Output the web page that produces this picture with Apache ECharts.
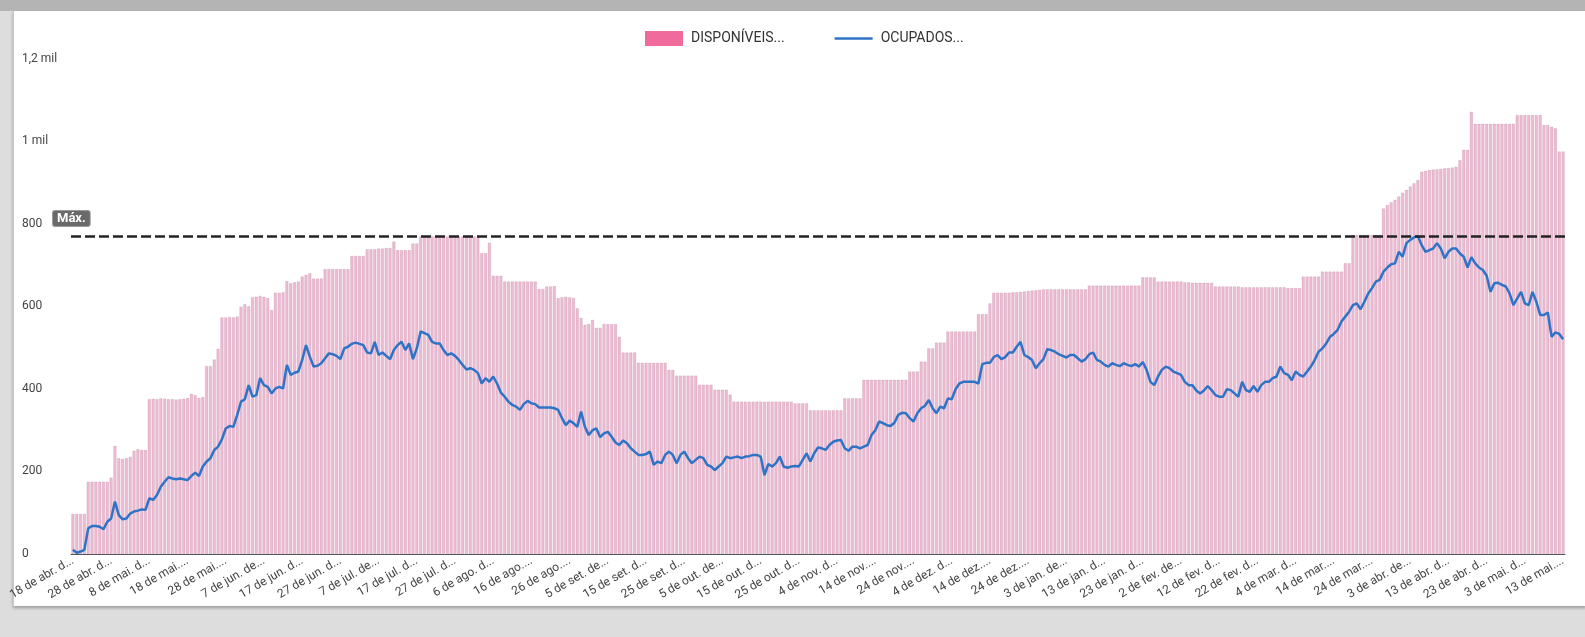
<!DOCTYPE html>
<html>
<head>
<meta charset="utf-8">
<script src="https://cdn.jsdelivr.net/npm/echarts@6/dist/echarts.min.js"></script>
<style>
  html, body { margin: 0; padding: 0; width: 1585px; height: 637px; overflow: hidden; background: #dddddd; }
  #topbar { position: absolute; left: 0; top: 0; width: 1585px; height: 11px; background: #b4b4b4; }
  #panel { position: absolute; left: 13px; top: 11px; width: 1572px; height: 595px; background: #ffffff;
           border-left: 1px solid #c9c9c9; box-shadow: 0 2px 3px rgba(0,0,0,0.30); }
  #chart { position: absolute; left: 0; top: 0; width: 1585px; height: 637px; }
</style>
</head>
<body>
<div id="topbar"></div>
<div id="panel"></div>
<div id="chart"></div>
<script>
// Daily ICU beds: available (bars) and occupied (line), from 18 abr. 2020
const disponiveis = [
  97, 97, 97, 97, 175, 175, 175, 175, 175, 175,
  185, 262, 232, 230, 232, 235, 250, 254, 252, 252,
  375, 376, 375, 377, 376, 375, 375, 374, 375, 376,
  378, 388, 385, 378, 380, 455, 455, 471, 497, 573,
  573, 574, 573, 575, 599, 605, 600, 622, 623, 625,
  623, 620, 591, 633, 633, 634, 661, 656, 658, 660,
  672, 676, 680, 667, 667, 667, 690, 690, 690, 690,
  690, 690, 690, 722, 722, 722, 722, 738, 738, 738,
  740, 740, 741, 741, 757, 736, 736, 736, 736, 752,
  752, 769, 769, 769, 769, 769, 769, 769, 769, 769,
  769, 769, 769, 769, 769, 769, 769, 729, 729, 754,
  674, 674, 674, 660, 660, 660, 660, 660, 660, 660,
  660, 660, 642, 642, 648, 648, 649, 620, 622, 623,
  622, 620, 595, 572, 555, 557, 567, 548, 548, 557,
  557, 557, 557, 526, 488, 488, 488, 488, 463, 463,
  463, 463, 463, 463, 463, 463, 446, 446, 432, 432,
  432, 432, 432, 432, 410, 410, 410, 410, 398, 398,
  398, 398, 386, 369, 369, 369, 369, 369, 369, 369,
  369, 369, 369, 369, 369, 369, 369, 369, 369, 365,
  365, 365, 365, 348, 348, 348, 348, 348, 348, 348,
  348, 348, 377, 377, 377, 377, 377, 422, 422, 422,
  422, 422, 422, 422, 422, 422, 422, 422, 422, 442,
  442, 442, 466, 466, 498, 498, 512, 512, 512, 539,
  539, 539, 539, 539, 539, 539, 539, 581, 581, 581,
  607, 633, 633, 633, 633, 633, 634, 634, 635, 636,
  637, 638, 639, 640, 641, 641, 641, 641, 641, 641,
  641, 641, 641, 641, 641, 641, 650, 650, 650, 650,
  650, 650, 650, 650, 650, 650, 650, 650, 650, 650,
  670, 670, 670, 670, 660, 660, 660, 660, 660, 660,
  660, 658, 658, 657, 657, 657, 657, 657, 657, 648,
  648, 648, 648, 648, 648, 648, 646, 646, 646, 646,
  646, 646, 646, 646, 646, 646, 646, 646, 644, 644,
  644, 644, 672, 672, 672, 672, 672, 684, 684, 684,
  684, 684, 684, 704, 704, 773, 773, 773, 773, 773,
  773, 773, 773, 837, 845, 852, 858, 866, 875, 882,
  890, 898, 906, 926, 928, 930, 931, 932, 933, 934,
  935, 936, 938, 954, 979, 979, 1071, 1042, 1042, 1042,
  1042, 1042, 1042, 1042, 1042, 1042, 1042, 1042, 1063, 1063,
  1063, 1063, 1063, 1063, 1063, 1039, 1039, 1035, 1031, 975,
  975
];

const ocupados = [
  10, 3, 6, 10, 62, 68, 68, 66, 60, 78,
  86, 127, 94, 84, 86, 98, 103, 105, 108, 107,
  135, 131, 143, 163, 175, 186, 183, 181, 183, 181,
  179, 189, 197, 189, 212, 224, 232, 252, 260, 278,
  304, 310, 308, 337, 369, 375, 409, 381, 385, 426,
  409, 405, 389, 401, 405, 401, 458, 434, 439, 442,
  470, 506, 478, 454, 456, 462, 474, 486, 484, 480,
  472, 498, 502, 509, 512, 509, 506, 488, 486, 514,
  482, 488, 480, 472, 494, 506, 514, 494, 510, 472,
  498, 539, 535, 531, 514, 510, 510, 494, 482, 486,
  480, 470, 458, 447, 450, 446, 438, 413, 426, 417,
  430, 413, 391, 381, 369, 361, 357, 349, 363, 371,
  365, 363, 355, 355, 355, 355, 353, 349, 329, 312,
  323, 317, 308, 345, 308, 288, 300, 304, 283, 292,
  296, 284, 270, 264, 275, 268, 256, 248, 240, 240,
  242, 248, 216, 224, 220, 240, 248, 240, 220, 240,
  248, 232, 220, 228, 236, 232, 216, 212, 203, 212,
  220, 236, 232, 234, 236, 232, 236, 237, 240, 240,
  236, 191, 218, 212, 220, 236, 212, 209, 212, 213,
  212, 228, 244, 224, 244, 258, 256, 252, 264, 272,
  275, 276, 256, 250, 260, 260, 256, 260, 264, 288,
  300, 321, 317, 312, 310, 318, 337, 342, 341, 329,
  321, 341, 353, 359, 373, 353, 341, 357, 353, 377,
  375, 399, 413, 417, 417, 417, 417, 413, 460, 463,
  463, 477, 482, 472, 477, 488, 488, 502, 514, 482,
  477, 470, 450, 462, 472, 496, 494, 490, 484, 480,
  476, 482, 482, 474, 466, 472, 484, 488, 470, 466,
  458, 454, 462, 458, 455, 462, 458, 455, 460, 454,
  465, 446, 417, 409, 430, 446, 454, 450, 442, 438,
  434, 417, 409, 409, 396, 389, 396, 407, 397, 385,
  381, 381, 399, 397, 389, 381, 417, 397, 393, 407,
  393, 409, 417, 417, 426, 430, 454, 438, 434, 421,
  442, 434, 430, 442, 454, 470, 490, 498, 510, 526,
  533, 543, 563, 575, 587, 603, 607, 593, 611, 631,
  644, 660, 664, 684, 694, 702, 704, 732, 720, 753,
  761, 767, 770, 748, 732, 736, 740, 753, 740, 716,
  732, 740, 740, 728, 720, 694, 719, 704, 694, 688,
  674, 635, 656, 657, 652, 648, 631, 603, 619, 635,
  607, 603, 635, 611, 579, 579, 585, 526, 537, 533,
  520
];

// One label every ten days, as shortened on the axis
const tickLabels = [
  '18 de abr. d...', '28 de abr. d...', '8 de mai. d...', '18 de mai....', '28 de mai....',
  '7 de jun. de...', '17 de jun. d...', '27 de jun. d...', '7 de jul. de...', '17 de jul. d...',
  '27 de jul. d...', '6 de ago. d...', '16 de ago....', '26 de ago....', '5 de set. de...',
  '15 de set. d...', '25 de set. d...', '5 de out. de...', '15 de out. d...', '25 de out. d...',
  '4 de nov. d...', '14 de nov....', '24 de nov....', '4 de dez. d...', '14 de dez....',
  '24 de dez....', '3 de jan. de...', '13 de jan. d...', '23 de jan. d...', '2 de fev. de...',
  '12 de fev. d...', '22 de fev. d...', '4 de mar. d...', '14 de mar....', '24 de mar....',
  '3 de abr. de...', '13 de abr. d...', '23 de abr. d...', '3 de mai. d...', '13 de mai....'
];

const yTickLabels = ['0', '200', '400', '600', '800', '1 mil', '1,2 mil'];

const seriesNames = ['DISPONÍVEIS...', 'OCUPADOS...'];

const monthNames = ['jan.', 'fev.', 'mar.', 'abr.', 'mai.', 'jun.', 'jul.', 'ago.', 'set.', 'out.', 'nov.', 'dez.'];
const days = [];
for (let i = 0; i < disponiveis.length; i++) {
  const d = new Date(Date.UTC(2020, 3, 18 + i));
  days.push(d.getUTCDate() + ' de ' + monthNames[d.getUTCMonth()] + ' de ' + d.getUTCFullYear());
}

const chart = echarts.init(document.getElementById('chart'), null, { renderer: 'canvas' });
const font = 'Roboto, "Noto Sans", sans-serif';
const blue = '#2f73c6';

chart.setOption({
  animation: false,
  backgroundColor: 'transparent',
  textStyle: { fontFamily: font },
  grid: { left: 71, right: 20, top: 58.6, bottom: 83, containLabel: false },
  legend: {
    left: 640, top: 26,
    itemWidth: 38, itemHeight: 15, itemGap: 50,
    symbolKeepAspect: true,
    textStyle: { fontSize: 14, color: '#333', fontFamily: font, padding: [0, 0, 0, 3] },
    data: [
      { name: seriesNames[0], icon: 'rect', itemStyle: { color: '#f06a9c', borderWidth: 0 } },
      { name: seriesNames[1], icon: 'path://M0,0H38V2.5H0Z', itemStyle: { color: blue, borderWidth: 0 } }
    ]
  },
  xAxis: {
    type: 'category',
    data: days,
    boundaryGap: true,
    axisTick: { show: false },
    axisLine: { lineStyle: { color: '#555', width: 1 } },
    axisLabel: {
      interval: 9,
      rotate: 30,
      margin: 6,
      fontSize: 12,
      color: '#444',
      fontFamily: font,
      formatter: (v, i) => tickLabels[Math.round(i / 10)]
    },
    splitLine: { show: false }
  },
  yAxis: {
    type: 'value',
    min: 0, max: 1200, interval: 200,
    axisLine: { show: false },
    axisTick: { show: false },
    splitLine: { show: false },
    axisLabel: {
      align: 'left',
      margin: 49,
      fontSize: 12,
      color: '#444',
      fontFamily: font,
      formatter: v => yTickLabels[Math.round(v / 200)]
    }
  },
  series: [
    {
      name: seriesNames[0],
      type: 'bar',
      data: disponiveis,
      barCategoryGap: '22%',
      itemStyle: { color: '#efbad3', borderColor: 'rgba(150,100,125,0.45)', borderWidth: 0.4 }
    },
    {
      name: seriesNames[1],
      type: 'line',
      data: ocupados,
      symbol: 'none',
      lineStyle: { color: blue, width: 2.5 },
      itemStyle: { color: blue },
      markLine: {
        silent: true,
        symbol: 'none',
        data: [{ type: 'max' }],
        lineStyle: { color: '#222', type: [10, 4], width: 2.5 },
        label: {
          position: 'insideStartTop',
          distance: [-18, 10],
          formatter: 'Máx.',
          color: '#fff',
          fontWeight: 'bold',
          fontSize: 13,
          backgroundColor: '#6a6a6a',
          borderColor: '#9a9a9a',
          borderWidth: 1,
          borderRadius: 2,
          padding: [1, 4]
        }
      }
    }
  ]
});
</script>
</body>
</html>
